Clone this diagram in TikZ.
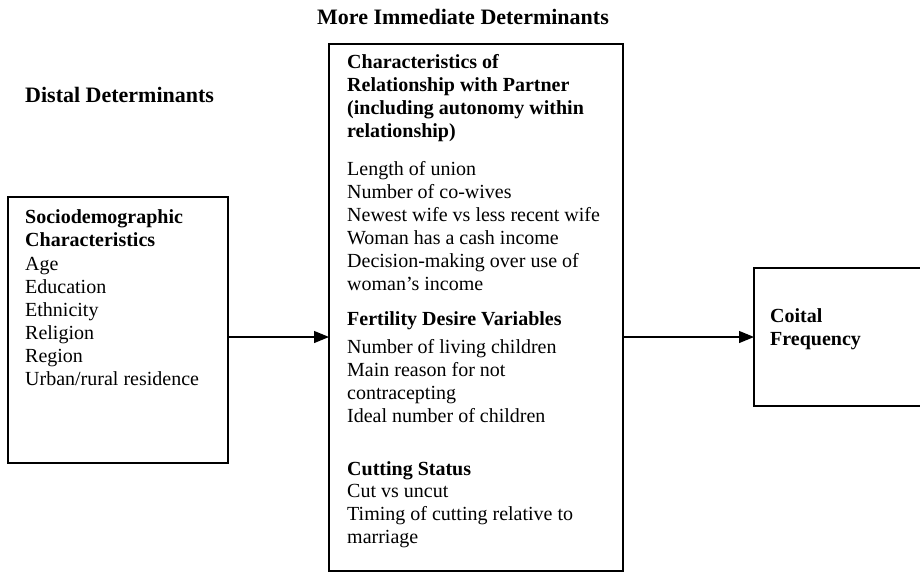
\documentclass[tikz,border=0pt]{standalone}
\usepackage{fontspec}
\setmainfont{Liberation Serif}
\usetikzlibrary{arrows.meta}
\tikzset{
  box/.style={draw=black, line width=1.2pt, inner sep=0pt},
  txt/.style={anchor=base west, inner sep=0pt, font=\fontsize{20}{23}\selectfont},
  head/.style={txt, font=\fontsize{20}{23}\selectfont\bfseries},
  title/.style={anchor=base west, inner sep=0pt, font=\fontsize{22}{26}\selectfont\bfseries},
  arr/.style={line width=1.2pt, -{Triangle[length=15pt,width=12pt]}}
}
\begin{document}
\begin{tikzpicture}[x=1pt,y=-1pt]
\useasboundingbox (0,0) rectangle (920,574);
% boxes
\node[box, minimum width=220pt, minimum height=266pt] (L) at (118,330) {};
\node[box, minimum width=294pt, minimum height=527pt] (M) at (476,307.5) {};
\draw[line width=1.2pt] (925,268) -- (754,268) -- (754,406) -- (925,406);
\coordinate (Rin) at (754,337);
\coordinate (Lout) at (228,337);
\coordinate (Min) at (329,337);
\coordinate (Mout) at (623,337);
% titles
\node[title] (t1) at (317,24) {More Immediate Determinants};
\node[title] (t2) at (25,102) {Distal Determinants};
% left box text
\node[head] (l1) at (25,223) {Sociodemographic};
\node[head] (l2) at (25,246) {Characteristics};
\foreach \t [count=\i] in {Age,Education,Ethnicity,Religion,Region,Urban/rural residence}
  \node[txt] (ln\i) at (25,{270+(\i-1)*23}) {\t};
% middle box text
\foreach \t [count=\i] in {{Characteristics of},{Relationship with Partner},{(including autonomy within},{relationship)}}
  \node[head] (mh\i) at (347,{68+(\i-1)*23}) {\t};
\foreach \t [count=\i] in {Length of union,Number of co-wives,Newest wife vs less recent wife,Woman has a cash income,Decision-making over use of,woman’s income}
  \node[txt] (ma\i) at (347,{175+(\i-1)*23}) {\t};
\node[head] (fh) at (347,325) {Fertility Desire Variables};
\foreach \t [count=\i] in {Number of living children,Main reason for not,contracepting,Ideal number of children}
  \node[txt] (mf\i) at (347,{353+(\i-1)*23}) {\t};
\node[head] (ch) at (347,475) {Cutting Status};
\foreach \t [count=\i] in {Cut vs uncut,Timing of cutting relative to,marriage}
  \node[txt] (mc\i) at (347,{497+(\i-1)*23}) {\t};
% right box text
\node[head] (r1) at (770,322) {Coital};
\node[head] (r2) at (770,345) {Frequency};
% arrows
\draw[arr] (Lout) -- (Min);
\draw[arr] (Mout) -- (Rin);
\end{tikzpicture}
\end{document}
